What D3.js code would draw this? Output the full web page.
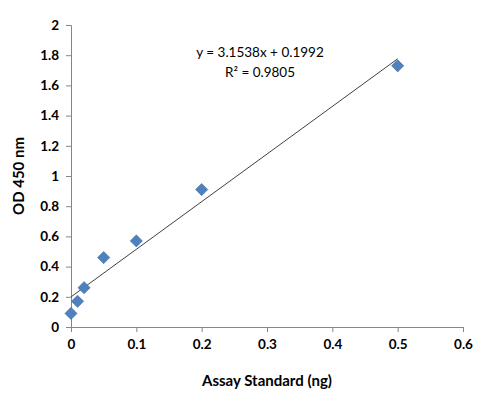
<!DOCTYPE html>
<html>
<head>
<meta charset="utf-8">
<script src="https://cdn.jsdelivr.net/npm/d3@7"></script>
<style>
  body { margin: 0; background: #fff; }
  text { font-family: Lato, "Open Sans", sans-serif; }
</style>
</head>
<body>
<svg id="chart"></svg>
<script>
/* Data. */
const xValues = [0, 0.01, 0.02, 0.05, 0.1, 0.2, 0.5]
const yValues = [0.09, 0.17, 0.26, 0.46, 0.57, 0.91, 1.73]
const xTicks = [0, 0.1, 0.2, 0.3, 0.4, 0.5, 0.6]
const yTicks = [0, 0.2, 0.4, 0.6, 0.8, 1, 1.2, 1.4, 1.6, 1.8, 2]
const slope = 3.1538
const intercept = 0.1992
const equationLines = ["y = 3.1538x + 0.1992", "R\u00b2 = 0.9805"]

const width = 498
const height = 403
const margin = { left: 71, right: 35, top: 25, bottom: 76 }

const svg = d3.select("#chart").attr("width", width).attr("height", height)

const xScale = d3.scaleLinear().domain([0, 0.6]).range([margin.left, width - margin.right])
const yScale = d3.scaleLinear().domain([0, 2]).range([height - margin.bottom, margin.top])

/* Axes. */
const xAxis = d3.axisBottom(xScale).tickValues(xTicks).tickSize(5).tickPadding(7)
  .tickFormat(d => d3.format("")(d))
const yAxis = d3.axisLeft(yScale).tickValues(yTicks).tickSize(5).tickPadding(7)
  .tickFormat(d => d3.format("")(d))

const gx = svg.append("g").attr("transform", `translate(0, ${yScale(0)})`).call(xAxis)
const gy = svg.append("g").attr("transform", `translate(${xScale(0)}, 0)`).call(yAxis)
;[gx, gy].forEach(g => {
  g.selectAll("path, line").attr("stroke", "#868686")
  g.selectAll("text").attr("fill", "#000").style("font-size", "13.5px").style("font-weight", "bold")
})

/* Trendline. */
svg.append("line")
  .attr("x1", xScale(0)).attr("y1", yScale(intercept))
  .attr("x2", xScale(0.5)).attr("y2", yScale(slope * 0.5 + intercept))
  .attr("stroke", "#404040").attr("stroke-width", 1)

/* Diamond markers. */
svg.selectAll(".pt")
  .data(xValues.map((x, i) => [x, yValues[i]]))
  .join("path")
  .attr("class", "pt")
  .attr("d", d3.symbol().type(d3.symbolSquare).size(75))
  .attr("transform", d => `translate(${xScale(d[0])}, ${yScale(d[1])}) rotate(45)`)
  .attr("fill", "#4F81BD")
  .attr("stroke", "#3A679C")
  .attr("stroke-width", 0.5)

/* Equation. */
svg.append("text").attr("x", 260).attr("y", 57).attr("text-anchor", "middle")
  .style("font-size", "13.5px").text(equationLines[0])
svg.append("text").attr("x", 260).attr("y", 77).attr("text-anchor", "middle")
  .style("font-size", "13.5px").text(equationLines[1])

/* Axis titles. */
svg.append("text").attr("x", (xScale(0) + xScale(0.6)) / 2).attr("y", 386)
  .attr("text-anchor", "middle").style("font-size", "15px").style("font-weight", "bold")
  .text("Assay Standard (ng)")
svg.append("text")
  .attr("transform", `translate(24, ${(yScale(0) + yScale(2)) / 2}) rotate(-90)`)
  .attr("text-anchor", "middle").style("font-size", "15px").style("font-weight", "bold")
  .text("OD 450 nm")
</script>
</body>
</html>
